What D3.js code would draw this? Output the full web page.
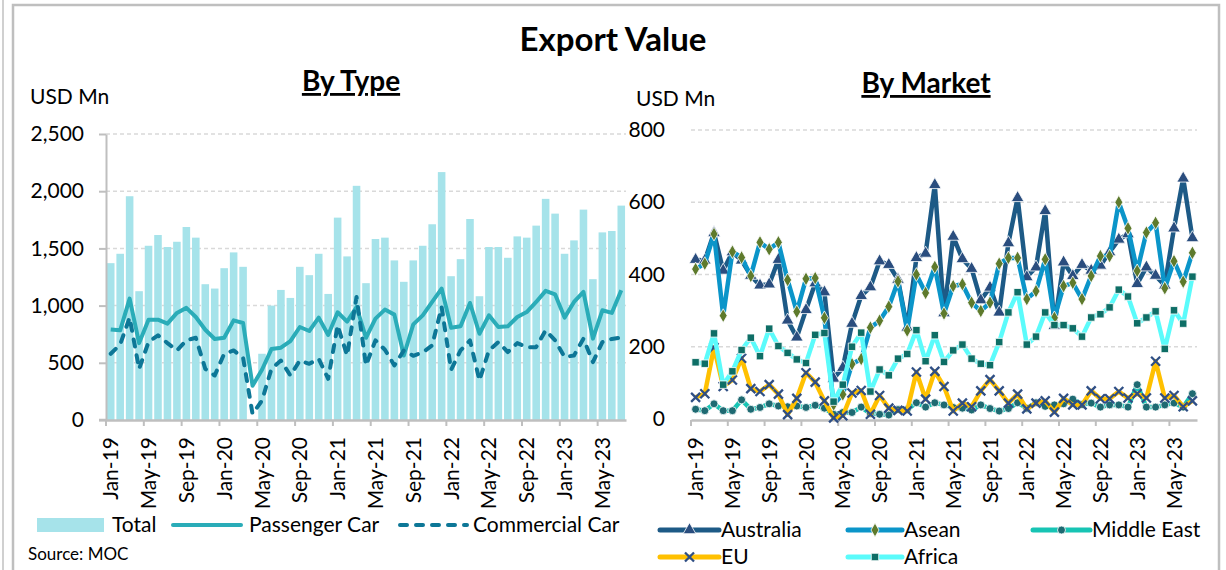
<!DOCTYPE html>
<html>
<head>
<meta charset="utf-8">
<script src="https://cdn.jsdelivr.net/npm/d3@7"></script>
<style>
  body { margin: 0; background: #fff; }
  svg text { font-family: Lato, "Open Sans", sans-serif; fill: #000; }
</style>
</head>
<body>
<svg id="chart" width="1226" height="570"></svg>
<script>
// months Jan-19 .. Jul-23
const months = d3.timeMonth.range(new Date(2019, 0, 1), new Date(2023, 7, 1)).map(d3.timeFormat("%b-%y"));
const tickMonths = months.filter((m, i) => i % 4 === 0);

// By Type (USD Mn)
const typeTicks = [0, 500, 1000, 1500, 2000, 2500];
const total = [1371,1453,1956,1126,1523,1617,1512,1558,1687,1594,
  1187,1149,1327,1465,1339,null,579,1000,1137,1067,
  1339,1266,1453,1102,1769,1430,2047,1196,1582,1594,
  1395,1208,1395,1523,1711,2167,1257,1406,1757,1082,
  1512,1512,1418,1605,1594,1699,1933,1804,1453,1570,
  1839,1231,1640,1652,1874];
const passenger = [792,784,1061,672,877,877,842,936,980,900,
  789,708,719,871,848,300,439,620,632,690,
  813,778,895,743,942,860,988,719,886,965,
  921,564,836,915,1032,1149,807,819,1023,754,
  915,813,819,900,944,1032,1129,1099,895,1032,
  1120,711,959,936,1135];
const commercial = [579,661,895,447,681,740,672,608,696,719,
  447,389,579,608,544,53,170,447,520,389,
  520,491,535,360,827,564,1076,477,696,614,
  477,608,561,591,652,988,439,608,696,345,
  608,681,594,672,637,637,784,696,550,564,
  711,506,681,708,720];

// By Market (USD Mn)
const marketTicks = [0, 200, 400, 600, 800];
const australia = [441,439,515,411,462,439,397,370,373,441,
  273,226,302,376,351,112,142,264,341,365,
  437,427,386,253,446,458,648,293,505,443,
  416,329,364,295,487,612,393,420,576,258,
  434,396,427,411,425,462,497,512,374,420,
  397,370,528,666,501];
const asean = [415,430,512,286,463,447,396,489,470,489,
  385,297,388,390,280,40,68,152,166,253,
  272,311,381,245,400,349,421,292,368,373,
  322,299,322,430,446,446,332,354,442,280,
  368,377,332,396,451,451,600,528,410,516,
  543,362,437,380,460];
const middleEast = [27,23,42,23,23,53,27,32,42,36,
  34,36,32,38,30,13,18,18,33,15,
  13,11,26,26,45,33,45,39,32,30,
  25,39,29,22,29,45,30,45,35,39,
  42,55,40,44,33,39,39,33,95,33,
  33,39,44,33,70];
const eu = [60,70,198,90,108,168,84,76,95,69,
  12,57,128,102,50,3,9,72,79,13,
  65,30,24,22,130,55,132,90,22,44,
  34,78,109,78,44,69,28,44,50,19,
  57,39,39,78,56,56,76,58,70,58,
  160,58,65,34,50];
const africa = [157,153,237,95,132,191,225,174,250,202,
  183,165,155,233,238,48,95,200,239,76,
  137,121,167,180,246,160,232,158,190,206,
  167,153,149,213,295,351,206,228,295,260,
  260,251,228,281,290,309,358,339,265,281,
  298,194,301,264,394];

const typeSeries = [
  { name: "Total", values: total },
  { name: "Passenger Car", values: passenger },
  { name: "Commercial Car", values: commercial }
];
const marketSeries = [
  { name: "Australia", values: australia, color: "#1D5A86", marker: "triangle", mColor: "#2A4D7E" },
  { name: "Asean", values: asean, color: "#0B95C9", marker: "diamond", mColor: "#5E7A2C" },
  { name: "Middle East", values: middleEast, color: "#17C4B4", marker: "circle", mColor: "#1E6A72" },
  { name: "EU", values: eu, color: "#FFC000", marker: "x", mColor: "#2F4F85" },
  { name: "Africa", values: africa, color: "#5BFBFB", marker: "square", mColor: "#0E6E66" }
];

const GRID = "#D9D9D9";
const AXIS = "#BFBFBF";
const BAR = "#A6E3EA";
const PASS = "#2AACB8";
const COMM = "#0D7797";
const DASH = "7,9";

const svg = d3.select("#chart");

// frame
svg.append("line").attr("x1", 3).attr("x2", 3).attr("y1", 0).attr("y2", 570)
  .attr("stroke", "#D0D0D0").attr("stroke-width", 2);
svg.append("rect").attr("x", 13).attr("y", 5).attr("width", 1206).attr("height", 580)
  .attr("fill", "none").attr("stroke", AXIS).attr("stroke-width", 2.5);

// titles
svg.append("text").attr("x", 613).attr("y", 51).attr("text-anchor", "middle")
  .style("font-size", "33px").style("font-weight", 700).text("Export Value");
svg.append("text").attr("x", 351).attr("y", 91).attr("text-anchor", "middle")
  .style("font-size", "28px").style("font-weight", 700).style("text-decoration", "underline").text("By Type");
svg.append("text").attr("x", 926).attr("y", 93).attr("text-anchor", "middle")
  .style("font-size", "28px").style("font-weight", 700).style("text-decoration", "underline").text("By Market");
svg.append("text").attr("x", 30).attr("y", 104).style("font-size", "21px").text("USD Mn");
svg.append("text").attr("x", 636).attr("y", 106).style("font-size", "21px").text("USD Mn");
svg.append("text").attr("x", 28).attr("y", 560).style("font-size", "17px").text("Source: MOC");

// helpers
const styleAxis = g => {
  g.select(".domain").attr("stroke", AXIS).attr("stroke-width", 2.5);
  g.selectAll(".tick line").attr("stroke", AXIS).attr("stroke-width", 2);
  g.selectAll("text").style("font-size", "21px").attr("fill", "#000");
};

const drawGrid = (ticks, x0, x1, y) => {
  svg.append("g").selectAll("line")
    .data(ticks.filter(d => d > 0))
    .join("line")
    .attr("x1", x0).attr("x2", x1)
    .attr("y1", d => y(d)).attr("y2", d => y(d))
    .attr("stroke", GRID).attr("stroke-width", 1.5).attr("stroke-dasharray", "4,3");
};

const drawXAxis = (x, yPos) => {
  const g = svg.append("g").attr("transform", `translate(0,${yPos})`)
    .call(d3.axisBottom(x).tickValues(tickMonths).tickSize(0).tickSizeOuter(0));
  styleAxis(g);
  g.selectAll("text")
    .attr("transform", "rotate(-90)")
    .attr("x", -17).attr("y", 0).attr("dy", "0.36em")
    .style("text-anchor", "end");
  // tick marks sit on the category boundaries
  svg.append("g").selectAll("line")
    .data(tickMonths)
    .join("line")
    .attr("x1", d => x(d) - x.step() * 0.1).attr("x2", d => x(d) - x.step() * 0.1)
    .attr("y1", yPos).attr("y2", yPos + 6)
    .attr("stroke", AXIS).attr("stroke-width", 2);
};

// ---------- By Type ----------
const xL = d3.scaleBand().domain(months).range([106, 626]).paddingInner(0.2).paddingOuter(0.1);
const yL = d3.scaleLinear().domain([0, 2500]).range([420, 134]);

drawGrid(typeTicks, 106, 626, yL);

svg.append("g").selectAll("rect")
  .data(months.map((m, i) => ({ m, v: total[i] })).filter(d => d.v != null))
  .join("rect")
  .attr("x", d => xL(d.m)).attr("width", xL.bandwidth())
  .attr("y", d => yL(d.v)).attr("height", d => yL(0) - yL(d.v))
  .attr("fill", BAR);

const lineL = d3.line()
  .defined(d => d.v != null)
  .x(d => xL(d.m) + xL.bandwidth() / 2)
  .y(d => yL(d.v));

svg.append("path")
  .datum(months.map((m, i) => ({ m, v: passenger[i] })))
  .attr("d", lineL).attr("fill", "none")
  .attr("stroke", PASS).attr("stroke-width", 4).attr("stroke-linejoin", "round");

svg.append("path")
  .datum(months.map((m, i) => ({ m, v: commercial[i] })))
  .attr("d", lineL).attr("fill", "none")
  .attr("stroke", COMM).attr("stroke-width", 4)
  .attr("stroke-dasharray", DASH).attr("stroke-linecap", "round").attr("stroke-linejoin", "round");

const yAxisL = svg.append("g").attr("transform", "translate(106,0)")
  .call(d3.axisLeft(yL).tickValues(typeTicks).tickFormat(d3.format(",")).tickSize(7).tickSizeOuter(0).tickPadding(15));
styleAxis(yAxisL);
yAxisL.select(".domain").attr("stroke-width", 2);

drawXAxis(xL, 420);
svg.append("line").attr("x1", 99).attr("x2", 106).attr("y1", 420).attr("y2", 420)
  .attr("stroke", AXIS).attr("stroke-width", 2.5);

// legend By Type
const legL = svg.append("g");
legL.append("rect").attr("x", 37).attr("y", 518).attr("width", 67).attr("height", 14).attr("fill", BAR);
legL.append("text").attr("x", 112).attr("y", 525).attr("dy", "0.35em").style("font-size", "21px").text(typeSeries[0].name);
legL.append("line").attr("x1", 173).attr("x2", 241).attr("y1", 525).attr("y2", 525)
  .attr("stroke", PASS).attr("stroke-width", 4).attr("stroke-linecap", "round");
legL.append("text").attr("x", 249).attr("y", 525).attr("dy", "0.35em").style("font-size", "21px").text(typeSeries[1].name);
legL.append("line").attr("x1", 400).attr("x2", 467).attr("y1", 525).attr("y2", 525)
  .attr("stroke", COMM).attr("stroke-width", 4)
  .attr("stroke-dasharray", DASH).attr("stroke-linecap", "round");
legL.append("text").attr("x", 473).attr("y", 525).attr("dy", "0.35em").style("font-size", "21px").text(typeSeries[2].name);

// ---------- By Market ----------
const xR = d3.scaleBand().domain(months).range([691, 1197]).paddingInner(0.2).paddingOuter(0.1);
const yR = d3.scaleLinear().domain([0, 800]).range([419, 130]);

drawGrid(marketTicks, 691, 1197, yR);

const yAxisR = svg.append("g").attr("transform", "translate(691,0)")
  .call(d3.axisLeft(yR).tickValues(marketTicks).tickSize(0).tickPadding(26));
styleAxis(yAxisR);
yAxisR.select(".domain").remove();

drawXAxis(xR, 420);

const drawMarker = (g, type, color, cx, cy) => {
  if (type === "circle") {
    g.append("circle").attr("cx", cx).attr("cy", cy).attr("r", 4)
      .attr("fill", color).attr("stroke", "#fff").attr("stroke-width", 0.8);
  } else if (type === "x") {
    g.append("path").attr("transform", `translate(${cx},${cy})`)
      .attr("d", "M-4.5,-4.5L4.5,4.5M-4.5,4.5L4.5,-4.5")
      .attr("stroke", color).attr("stroke-width", 2.3).attr("fill", "none");
  } else {
    const sym = { triangle: [d3.symbolTriangle, 70], diamond: [d3.symbolDiamond, 55], square: [d3.symbolSquare, 55] }[type];
    g.append("path").attr("transform", `translate(${cx},${cy})`)
      .attr("d", d3.symbol(sym[0], sym[1]))
      .attr("fill", color).attr("stroke", "#fff").attr("stroke-width", 0.8);
  }
};

const lineR = d3.line()
  .x(d => xR(d.m) + xR.bandwidth() / 2)
  .y(d => yR(d.v));

marketSeries.forEach(s => {
  const pts = months.map((m, i) => ({ m, v: s.values[i] }));
  const g = svg.append("g");
  g.append("path").datum(pts).attr("d", lineR).attr("fill", "none")
    .attr("stroke", s.color).attr("stroke-width", 4.5).attr("stroke-linejoin", "round");
  pts.forEach(p => drawMarker(g, s.marker, s.mColor, xR(p.m) + xR.bandwidth() / 2, yR(p.v)));
});

// legend By Market
const legPos = [
  { x1: 660, x2: 719, y: 530 },
  { x1: 848, x2: 902, y: 530 },
  { x1: 1033, x2: 1090, y: 530 },
  { x1: 660, x2: 719, y: 557 },
  { x1: 848, x2: 902, y: 557 }
];
marketSeries.forEach((s, i) => {
  const p = legPos[i];
  const g = svg.append("g");
  g.append("line").attr("x1", p.x1).attr("x2", p.x2).attr("y1", p.y).attr("y2", p.y)
    .attr("stroke", s.color).attr("stroke-width", 5).attr("stroke-linecap", "round");
  drawMarker(g, s.marker, s.mColor, (p.x1 + p.x2) / 2, p.y);
  g.append("text").attr("x", p.x2 + 2).attr("y", p.y).attr("dy", "0.35em")
    .style("font-size", "21px").text(s.name);
});
</script>
</body>
</html>
